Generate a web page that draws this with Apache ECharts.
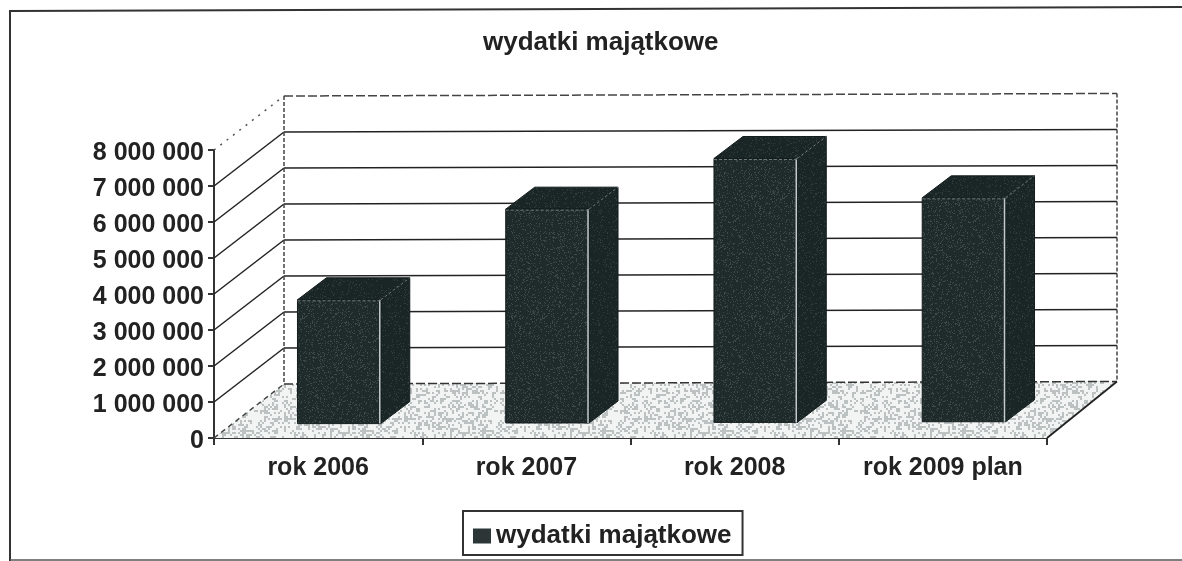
<!DOCTYPE html>
<html>
<head>
<meta charset="utf-8">
<style>
    html, body { margin: 0; padding: 0; background: #fff; }
    #chart { width: 1182px; height: 561px; }
</style>
<script src="https://cdn.jsdelivr.net/npm/echarts@6/dist/echarts.min.js"></script>
</head>
<body>
<div id="chart"></div>
<script>
const seriesName = 'wydatki majątkowe'
const categories = ['rok 2006', 'rok 2007', 'rok 2008', 'rok 2009 plan']
const values = [3440000, 5940000, 7330000, 6220000]
const gridValues = [1000000, 2000000, 3000000, 4000000, 5000000, 6000000, 7000000]
const topValue = 8000000

// wall depth in pixels, and the slight tilt of the scanned page
const wallDx = 70, wallDy = -54, tilt = -0.003
const font = '"Liberation Sans", Arial, sans-serif'

// speckle texture for the floor and the bars, a fixed pattern, no random
function speckle(base, dot, limit, size) {
    const c = document.createElement('canvas')
    c.width = c.height = 120
    const ctx = c.getContext('2d')
    ctx.fillStyle = base
    ctx.fillRect(0, 0, 120, 120)
    ctx.fillStyle = dot
    for (let i = 0; i < 120; i += size) {
        for (let j = 0; j < 120; j += size) {
            const h = Math.sin(i * 12.9898 + j * 78.233) * 43758.5453
            if (h - Math.floor(h) < limit) ctx.fillRect(i, j, size, size)
        }
    }
    return { image: c, repeat: 'repeat' }
}
const floorFill = speckle('#f2f4f4', '#bcc2c2', 0.36, 2)
const barFill = speckle('#1f2a2a', '#3d4848', 0.14, 1)
const sideFill = speckle('#1a2525', '#303b3b', 0.1, 1)

function line(a, b, color, width, dash) {
    return {
        type: 'line',
        shape: { x1: a[0], y1: a[1], x2: b[0], y2: b[1] },
        style: { stroke: color, lineWidth: width, lineDash: dash || null }
    }
}

function renderWalls(params, api) {
    const g = params.coordSys
    const left = g.x, right = g.x + g.width
    const val = api.value(0)
    const y = api.coord([0, val])[1]
    const a = [left, y]
    const b = [left + wallDx, y + wallDy]
    const c = [right + wallDx, y + wallDy + tilt * g.width]
    const children = []
    if (val === 0) {
        const d = [right, y]
        children.push({
            type: 'polygon',
            shape: { points: [a, b, c, d] },
            style: { fill: floorFill }
        })
        children.push(line(a, b, '#444', 1.5, [5, 4]))
        children.push(line(b, c, '#333', 1.5, [9, 3]))
        children.push(line(c, d, '#222', 1.8))
    } else if (val === topValue) {
        children.push(line(a, b, '#555', 1.5, [2, 6]))
        children.push(line(b, c, '#444', 1.5, [9, 3]))
        const y0 = api.coord([0, 0])[1]
        children.push(line(b, [b[0], y0 + wallDy], '#444', 1.5, [4, 2]))
        children.push(line(c, [c[0], y0 + wallDy + tilt * g.width], '#444', 1.5, [4, 2]))
    } else {
        children.push(line(a, b, '#222', 1.5))
        children.push(line(b, c, '#222', 1.5))
    }
    return { type: 'group', silent: true, children: children }
}

function renderBars(params, api) {
    const g = params.coordSys
    const band = api.size([1, 0])[0]
    const base = api.coord([api.value(0), 0])
    const top = api.coord([api.value(0), api.value(1)])
    const w = band * 0.4
    const shift = tilt * (base[0] + 21 - g.x)
    const x1 = base[0] + 21 - w / 2, x2 = x1 + w
    const yb = base[1] - 14 + shift, yt = top[1] - 14 + shift
    const dx = 29, dy = -22
    return {
        type: 'group',
        silent: true,
        children: [
            { type: 'polygon', shape: { points: [[x2, yb], [x2 + dx, yb + dy], [x2 + dx, yt + dy], [x2, yt]] }, style: { fill: sideFill, stroke: '#141c1c', lineWidth: 1 } },
            { type: 'polygon', shape: { points: [[x1, yt], [x1 + dx, yt + dy], [x2 + dx, yt + dy], [x2, yt]] }, style: { fill: sideFill, stroke: '#141c1c', lineWidth: 1 } },
            { type: 'rect', shape: { x: x1, y: yt, width: w, height: yb - yt }, style: { fill: barFill, stroke: '#141c1c', lineWidth: 1 } },
            line([x2 - 1, yt], [x2 - 1, yb], '#c4caca', 1.5),
            line([x1, yt + 1], [x2, yt + 1], '#6f7a7a', 1, [3, 2]),
            line([x2, yt], [x2 + dx, yt + dy], '#6f7a7a', 1, [3, 2])
        ]
    }
}

const chart = echarts.init(document.getElementById('chart'))
chart.setOption({
    animation: false,
    backgroundColor: '#fff',
    title: {
        text: seriesName,
        left: 483,
        top: 30,
        padding: 0,
        textStyle: { fontFamily: font, fontSize: 26, fontWeight: 'bold', color: '#222' }
    },
    legend: {
        data: [seriesName],
        left: 463,
        top: 511,
        icon: 'rect',
        itemWidth: 18,
        itemHeight: 15,
        padding: [12, 11, 6, 10],
        borderColor: '#333',
        borderWidth: 2,
        borderRadius: 0,
        textStyle: { fontFamily: font, fontSize: 26, fontWeight: 'bold', color: '#222', padding: [0, 0, 0, 0] }
    },
    grid: { left: 214, top: 150, width: 833, height: 288, show: false },
    xAxis: {
        type: 'category',
        data: categories,
        boundaryGap: true,
        axisLine: { lineStyle: { color: '#333', width: 2 } },
        axisTick: { show: true, length: 7, alignWithLabel: false, lineStyle: { color: '#333', width: 2 } },
        axisLabel: { fontFamily: font, fontSize: 25, fontWeight: 'bold', color: '#222', margin: 18, interval: 0 }
    },
    yAxis: {
        type: 'value',
        min: 0,
        max: topValue,
        interval: 1000000,
        axisLine: { show: true, lineStyle: { color: '#333', width: 2 } },
        axisTick: { show: true, length: 6, lineStyle: { color: '#333', width: 2 } },
        splitLine: { show: false },
        axisLabel: {
            margin: 10,
            formatter: v => '{t|' + String(v).replace(/\B(?=(\d{3})+$)/g, ' ') + '}',
            rich: {
                t: { fontFamily: font, fontSize: 25, fontWeight: 'bold', color: '#222', padding: [6, 0, 0, 0] }
            }
        }
    },
    // graphic only holds the frame of the scanned page
    graphic: [
        { type: 'polyline', silent: true, shape: { points: [[10, 561], [10, 11], [1182, 7]] }, style: { stroke: '#333', lineWidth: 2, fill: null } },
        { type: 'line', silent: true, shape: { x1: 10, y1: 560, x2: 1182, y2: 560 }, style: { stroke: '#555', lineWidth: 1.5 } }
    ],
    series: [
        {
            name: 'walls',
            type: 'custom',
            renderItem: renderWalls,
            encode: { y: 0 },
            data: [0, ...gridValues, topValue].map(v => [v]),
            z: 1,
            silent: true
        },
        {
            name: seriesName,
            type: 'custom',
            renderItem: renderBars,
            encode: { x: 0, y: 1 },
            data: values.map((v, i) => [i, v]),
            itemStyle: { color: '#2d3636', borderColor: '#141c1c' },
            z: 3,
            silent: true
        }
    ]
})
</script>
</body>
</html>
